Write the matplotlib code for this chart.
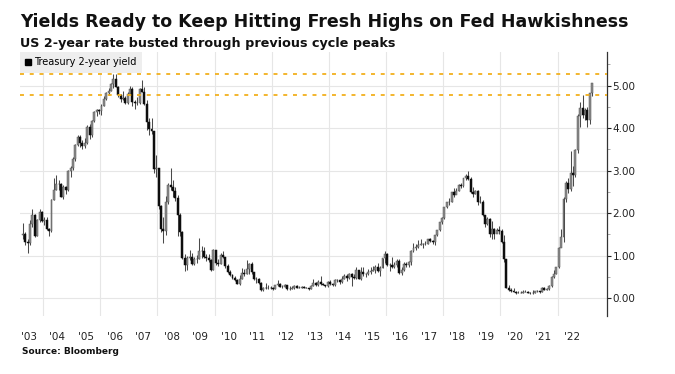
import matplotlib
matplotlib.use("Agg")
import matplotlib.pyplot as plt
from matplotlib.lines import Line2D
from matplotlib.ticker import FixedLocator, FormatStrFormatter, MultipleLocator

title = "Yields Ready to Keep Hitting Fresh Highs on Fed Hawkishness"
subtitle = "US 2-year rate busted through previous cycle peaks"
source = "Source: Bloomberg"
series_name = "Treasury 2-year yield"

# monthly candles, starting April 2003
start_year, start_month = 2003, 4
first_open = 1.48

close = [
    # 2003 Apr-Dec
    1.50, 1.33, 1.30, 1.74, 1.96, 1.46, 1.83, 2.02, 1.82,
    # 2004
    1.83, 1.62, 1.58, 2.31, 2.54, 2.68, 2.68, 2.38, 2.61, 2.54, 2.99, 3.07,
    # 2005
    3.27, 3.60, 3.78, 3.65, 3.59, 3.64, 4.03, 3.83, 4.17, 4.39, 4.42, 4.40,
    # 2006
    4.53, 4.69, 4.82, 4.87, 5.03, 5.16, 4.97, 4.78, 4.69, 4.70, 4.60, 4.81,
    # 2007
    4.93, 4.62, 4.58, 4.59, 4.92, 4.86, 4.56, 4.15, 3.97, 3.94, 3.04, 3.05,
    # 2008
    2.16, 1.62, 1.59, 2.26, 2.65, 2.62, 2.51, 2.36, 1.96, 1.55, 0.95, 0.77,
    # 2009
    0.94, 0.97, 0.80, 0.91, 0.91, 1.11, 1.11, 0.97, 0.95, 0.90, 0.67, 1.14,
    # 2010
    0.82, 0.81, 1.02, 0.97, 0.76, 0.61, 0.55, 0.47, 0.42, 0.34, 0.45, 0.59,
    # 2011
    0.57, 0.69, 0.80, 0.61, 0.45, 0.45, 0.36, 0.20, 0.25, 0.24, 0.25, 0.24,
    # 2012
    0.22, 0.30, 0.33, 0.27, 0.27, 0.30, 0.22, 0.22, 0.23, 0.29, 0.25, 0.25,
    # 2013
    0.26, 0.25, 0.24, 0.21, 0.29, 0.36, 0.30, 0.39, 0.33, 0.31, 0.28, 0.38,
    # 2014
    0.34, 0.32, 0.42, 0.42, 0.37, 0.46, 0.53, 0.48, 0.57, 0.50, 0.47, 0.66,
    # 2015
    0.45, 0.62, 0.56, 0.57, 0.61, 0.64, 0.67, 0.74, 0.64, 0.72, 0.94, 1.05,
    # 2016
    0.78, 0.78, 0.73, 0.78, 0.88, 0.58, 0.66, 0.81, 0.77, 0.84, 1.11, 1.19,
    # 2017
    1.20, 1.26, 1.27, 1.28, 1.28, 1.38, 1.35, 1.33, 1.49, 1.60, 1.78, 1.89,
    # 2018
    2.14, 2.25, 2.27, 2.49, 2.43, 2.53, 2.67, 2.63, 2.82, 2.87, 2.80, 2.49,
    # 2019
    2.46, 2.52, 2.27, 2.27, 1.95, 1.75, 1.87, 1.51, 1.63, 1.52, 1.61, 1.57,
    # 2020
    1.33, 0.91, 0.25, 0.20, 0.16, 0.15, 0.11, 0.13, 0.13, 0.15, 0.15, 0.12,
    # 2021
    0.11, 0.13, 0.16, 0.16, 0.14, 0.25, 0.19, 0.21, 0.28, 0.50, 0.57, 0.73,
    # 2022
    1.18, 1.43, 2.33, 2.72, 2.56, 2.95, 2.89, 3.49, 4.28, 4.48, 4.31, 4.43,
    # 2023 Jan-Mar
    4.20, 4.82, 5.05,
]

high = [
    1.76, 1.55, 1.40, 1.83, 2.10, 1.97, 1.86, 2.09, 2.05,
    1.90, 1.91, 1.66, 2.34, 2.82, 2.89, 2.79, 2.72, 2.67, 2.64, 3.02, 3.11,
    3.31, 3.62, 3.84, 3.83, 3.71, 3.76, 4.07, 4.10, 4.20, 4.41, 4.46, 4.45,
    4.56, 4.75, 4.85, 4.95, 5.06, 5.28, 5.28, 4.99, 4.81, 4.87, 4.76, 4.84,
    4.98, 4.96, 4.66, 4.74, 4.95, 5.13, 4.97, 4.66, 4.24, 4.24, 3.94, 3.36,
    3.05, 2.20, 1.92, 2.40, 2.70, 3.05, 2.77, 2.61, 2.43, 2.01, 1.59, 1.04,
    0.98, 1.14, 1.06, 0.97, 1.02, 1.42, 1.23, 1.21, 1.05, 1.05, 0.93, 1.15,
    1.04, 0.93, 1.07, 1.12, 0.97, 0.80, 0.66, 0.56, 0.52, 0.46, 0.54, 0.72,
    0.69, 0.89, 0.83, 0.84, 0.62, 0.50, 0.48, 0.37, 0.26, 0.35, 0.30, 0.29,
    0.26, 0.31, 0.42, 0.35, 0.30, 0.34, 0.31, 0.29, 0.28, 0.30, 0.30, 0.28,
    0.28, 0.28, 0.27, 0.25, 0.31, 0.44, 0.37, 0.43, 0.53, 0.36, 0.32, 0.41,
    0.43, 0.35, 0.46, 0.46, 0.43, 0.53, 0.56, 0.56, 0.60, 0.59, 0.56, 0.74,
    0.67, 0.74, 0.74, 0.60, 0.69, 0.74, 0.75, 0.78, 0.82, 0.76, 0.95, 1.10,
    1.06, 0.82, 0.96, 0.85, 0.92, 0.93, 0.73, 0.86, 0.86, 0.87, 1.14, 1.29,
    1.27, 1.37, 1.40, 1.30, 1.35, 1.39, 1.41, 1.37, 1.49, 1.61, 1.78, 1.92,
    2.15, 2.27, 2.35, 2.50, 2.59, 2.58, 2.69, 2.70, 2.83, 2.92, 2.98, 2.84,
    2.62, 2.55, 2.55, 2.40, 2.32, 1.96, 1.92, 1.89, 1.82, 1.66, 1.66, 1.69,
    1.62, 1.48, 0.92, 0.30, 0.23, 0.24, 0.16, 0.17, 0.16, 0.19, 0.19, 0.16,
    0.14, 0.19, 0.17, 0.18, 0.17, 0.27, 0.27, 0.24, 0.30, 0.52, 0.66, 0.74,
    1.20, 1.63, 2.37, 2.75, 2.83, 3.45, 3.10, 3.51, 4.34, 4.62, 4.79, 4.48,
    4.49, 4.82, 5.07,
]

low = [
    1.40, 1.25, 1.07, 1.24, 1.68, 1.45, 1.46, 1.79, 1.78,
    1.73, 1.61, 1.46, 1.55, 2.30, 2.54, 2.54, 2.37, 2.34, 2.44, 2.51, 2.86,
    3.02, 3.23, 3.57, 3.56, 3.52, 3.54, 3.62, 3.75, 3.79, 4.15, 4.29, 4.32,
    4.31, 4.52, 4.66, 4.77, 4.87, 4.94, 4.96, 4.74, 4.62, 4.65, 4.57, 4.56,
    4.78, 4.52, 4.44, 4.54, 4.57, 4.86, 4.54, 3.96, 3.84, 3.86, 2.94, 2.84,
    2.09, 1.56, 1.29, 1.48, 2.21, 2.55, 2.39, 2.28, 1.47, 1.46, 0.93, 0.64,
    0.66, 0.90, 0.77, 0.79, 0.82, 0.93, 0.94, 0.94, 0.88, 0.84, 0.64, 0.66,
    0.79, 0.76, 0.81, 0.95, 0.70, 0.60, 0.53, 0.45, 0.41, 0.33, 0.32, 0.44,
    0.52, 0.56, 0.57, 0.57, 0.43, 0.35, 0.34, 0.16, 0.16, 0.22, 0.21, 0.22,
    0.20, 0.21, 0.28, 0.26, 0.23, 0.27, 0.20, 0.20, 0.22, 0.22, 0.24, 0.23,
    0.23, 0.24, 0.23, 0.20, 0.21, 0.28, 0.29, 0.29, 0.32, 0.30, 0.27, 0.27,
    0.30, 0.29, 0.29, 0.38, 0.34, 0.36, 0.46, 0.41, 0.46, 0.28, 0.46, 0.45,
    0.44, 0.43, 0.53, 0.50, 0.55, 0.56, 0.63, 0.58, 0.61, 0.53, 0.70, 0.82,
    0.75, 0.64, 0.71, 0.70, 0.73, 0.56, 0.55, 0.65, 0.73, 0.74, 0.78, 1.09,
    1.14, 1.17, 1.24, 1.17, 1.25, 1.27, 1.33, 1.27, 1.26, 1.46, 1.58, 1.75,
    1.87, 2.11, 2.20, 2.27, 2.37, 2.46, 2.52, 2.58, 2.62, 2.79, 2.77, 2.48,
    2.39, 2.45, 2.18, 2.24, 1.94, 1.67, 1.73, 1.43, 1.40, 1.39, 1.54, 1.52,
    1.30, 0.86, 0.23, 0.17, 0.14, 0.14, 0.10, 0.11, 0.12, 0.12, 0.14, 0.11,
    0.10, 0.10, 0.11, 0.14, 0.13, 0.14, 0.18, 0.18, 0.19, 0.27, 0.48, 0.56,
    0.72, 1.28, 1.31, 2.26, 2.48, 2.53, 2.64, 2.85, 3.42, 4.03, 4.24, 4.18,
    4.03, 4.09, 4.76,
]

peak_levels = [5.28, 4.79]
label_years = list(range(2003, 2023))
year_labels = ["'%02d" % (y % 100) for y in label_years]
grid_years = list(range(2004, 2023, 2))
y_ticks = [0, 1, 2, 3, 4, 5]

# ---------------------------------------------------------------
opens = [first_open] + close[:-1]
xs = [start_year + (start_month - 1 + i + 0.5) / 12.0 for i in range(len(close))]

fig = plt.figure(figsize=(6.75, 3.74), dpi=100)
ax = fig.add_axes([20 / 675, 1 - 316 / 374, (607 - 20) / 675, (316 - 52) / 374])

up_x, up_b, up_h, dn_x, dn_b, dn_h = [], [], [], [], [], []
for x, o, c in zip(xs, opens, close):
    if c >= o:
        up_x.append(x); up_b.append(o); up_h.append(c - o)
    else:
        dn_x.append(x); dn_b.append(c); dn_h.append(o - c)

ax.vlines(xs, low, high, color="#4a4a4a", linewidth=0.75, zorder=3)
ax.bar(up_x, up_h, bottom=up_b, width=0.068, color="#8c8c8c",
       edgecolor="#555555", linewidth=0.35, zorder=4)
ax.bar(dn_x, dn_h, bottom=dn_b, width=0.068, color="#0d0d0d",
       edgecolor="#0d0d0d", linewidth=0.35, zorder=4)

for lvl in peak_levels:
    ax.axhline(lvl, color="#f2b01e", linewidth=1.3, linestyle=(0, (2.2, 3.2)), zorder=5)

ax.set_xlim(2003.19, 2023.73)
ax.set_ylim(-0.42, 5.79)

ax.xaxis.set_major_locator(FixedLocator([y + 0.5 for y in label_years]))
ax.set_xticklabels(year_labels)
ax.xaxis.set_minor_locator(FixedLocator(grid_years))
ax.tick_params(axis="x", which="both", length=0, labelsize=7.5, colors="#222222", pad=11.5)
ax.grid(axis="x", which="minor", color="#e6e6e6", linewidth=0.8)

ax.yaxis.tick_right()
ax.yaxis.set_major_locator(FixedLocator(y_ticks))
ax.yaxis.set_minor_locator(MultipleLocator(0.5))
ax.yaxis.set_major_formatter(FormatStrFormatter("%.2f"))
ax.tick_params(axis="y", which="major", length=3, width=0.8, labelsize=7.5,
               colors="#222222", pad=1)
ax.tick_params(axis="y", which="minor", length=2, width=0.6, colors="#999999")
ax.grid(axis="y", which="major", color="#e6e6e6", linewidth=0.8)

for side in ["left", "top", "bottom"]:
    ax.spines[side].set_visible(False)
ax.spines["right"].set_color("#333333")
ax.spines["right"].set_linewidth(0.9)
ax.set_axisbelow(True)

handle = Line2D([], [], marker="s", color="none", markerfacecolor="black",
                markeredgecolor="black", markersize=4.5)
leg = ax.legend([handle], [series_name], loc="upper left", bbox_to_anchor=(0.0, 1.0),
                frameon=True, fontsize=7, handlelength=0.6, handletextpad=0.3,
                borderpad=0.55, borderaxespad=0.0, fancybox=False)
leg.get_frame().set_facecolor("#eeeeee")
leg.get_frame().set_edgecolor("none")
leg.get_frame().set_alpha(1)
leg.set_zorder(10)

fig.text(20 / 675, 1 - 22 / 374, title, fontsize=12.5, fontweight="bold",
         color="#111111", va="center", ha="left")
fig.text(20 / 675, 1 - 43 / 374, subtitle, fontsize=9.2, fontweight="bold",
         color="#111111", va="center", ha="left")
fig.text(22 / 675, 1 - 352 / 374, source, fontsize=6.5, fontweight="bold",
         color="#111111", va="center", ha="left")

fig.savefig("out.png", dpi=100, facecolor="white")
